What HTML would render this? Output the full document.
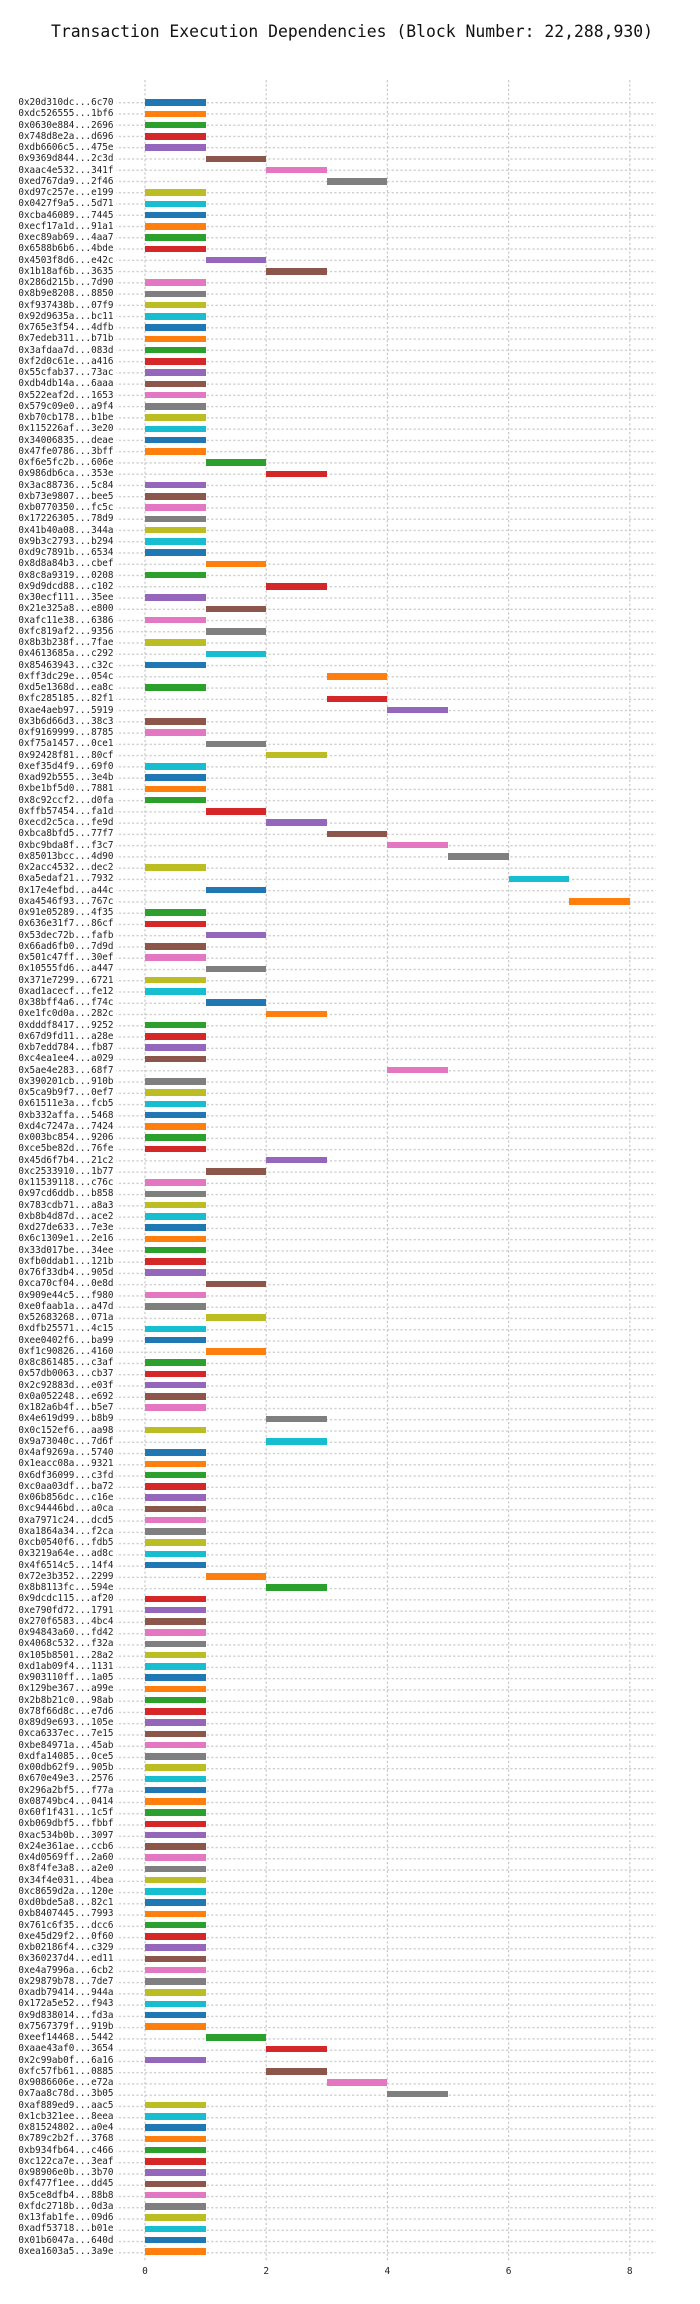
<!DOCTYPE html>
<html><head><meta charset="utf-8"><style>
html,body{margin:0;padding:0;background:#fff;}
body{width:700px;height:2304px;position:relative;overflow:hidden;font-family:"DejaVu Sans Mono","Liberation Mono",monospace;}
.t{position:absolute;left:0;width:704px;top:22px;text-align:center;font-size:16.4px;color:#111;}
svg{position:absolute;left:0;top:0;}
#rows{position:absolute;left:0;top:97.07px;width:700px;}
.r{position:relative;height:11.257px;}
.r b{position:absolute;left:0;width:113.5px;text-align:right;font-weight:normal;font-size:9.3px;line-height:11.257px;top:0;color:#222;white-space:nowrap;}
.r i{position:absolute;top:2.3px;height:6.6px;width:60.6px;left:145px;box-sizing:border-box;}
.r i.s1{left:205.6px}.r i.s2{left:266.2px}.r i.s3{left:326.8px}.r i.s4{left:387.4px}.r i.s5{left:448px}.r i.s6{left:508.6px}.r i.s7{left:569.2px}
.r:nth-child(10n+1) i{background:#1f77b4}
.r:nth-child(10n+2) i{background:#ff7f0e}
.r:nth-child(10n+3) i{background:#2ca02c}
.r:nth-child(10n+4) i{background:#d62728}
.r:nth-child(10n+5) i{background:#9467bd}
.r:nth-child(10n+6) i{background:#8c564b}
.r:nth-child(10n+7) i{background:#e377c2}
.r:nth-child(10n+8) i{background:#7f7f7f}
.r:nth-child(10n+9) i{background:#bcbd22}
.r:nth-child(10n+10) i{background:#17becf}
.x{position:absolute;top:2266px;font-size:9.5px;color:#222;width:20px;margin-left:-10px;text-align:center;}
</style></head><body>
<svg width="700" height="2304">
<defs><pattern id="hp" patternUnits="userSpaceOnUse" x="0" y="97.07" width="700" height="11.257">
<line x1="0" y1="5.63" x2="700" y2="5.63" stroke="#c8c8c8" stroke-width="1.2" stroke-dasharray="2.2,2.2"/></pattern></defs>
<rect x="116" y="97.07" width="540" height="2161.4" fill="url(#hp)"/>
<g stroke="#c8c8c8" stroke-width="1.2" stroke-dasharray="2.2,2.2">
<line x1="145" y1="80" x2="145" y2="2262"/><line x1="266.2" y1="80" x2="266.2" y2="2262"/><line x1="387.4" y1="80" x2="387.4" y2="2262"/><line x1="508.6" y1="80" x2="508.6" y2="2262"/><line x1="629.8" y1="80" x2="629.8" y2="2262"/>
</g></svg>
<div class="t">Transaction Execution Dependencies (Block Number: 22,288,930)</div>
<div id="rows">
<div class="r"><b>0x20d310dc...6c70</b><i></i></div>
<div class="r"><b>0xdc526555...1bf6</b><i></i></div>
<div class="r"><b>0x0630e884...2696</b><i></i></div>
<div class="r"><b>0x748d8e2a...d696</b><i></i></div>
<div class="r"><b>0xdb6606c5...475e</b><i></i></div>
<div class="r"><b>0x9369d844...2c3d</b><i class="s1"></i></div>
<div class="r"><b>0xaac4e532...341f</b><i class="s2"></i></div>
<div class="r"><b>0xed767da9...2f46</b><i class="s3"></i></div>
<div class="r"><b>0xd97c257e...e199</b><i></i></div>
<div class="r"><b>0x0427f9a5...5d71</b><i></i></div>
<div class="r"><b>0xcba46089...7445</b><i></i></div>
<div class="r"><b>0xecf17a1d...91a1</b><i></i></div>
<div class="r"><b>0xec89ab69...4aa7</b><i></i></div>
<div class="r"><b>0x6588b6b6...4bde</b><i></i></div>
<div class="r"><b>0x4503f8d6...e42c</b><i class="s1"></i></div>
<div class="r"><b>0x1b18af6b...3635</b><i class="s2"></i></div>
<div class="r"><b>0x286d215b...7d90</b><i></i></div>
<div class="r"><b>0x8b9e8208...8850</b><i></i></div>
<div class="r"><b>0xf937438b...07f9</b><i></i></div>
<div class="r"><b>0x92d9635a...bc11</b><i></i></div>
<div class="r"><b>0x765e3f54...4dfb</b><i></i></div>
<div class="r"><b>0x7edeb311...b71b</b><i></i></div>
<div class="r"><b>0x3afdaa7d...083d</b><i></i></div>
<div class="r"><b>0xf2d0c61e...a416</b><i></i></div>
<div class="r"><b>0x55cfab37...73ac</b><i></i></div>
<div class="r"><b>0xdb4db14a...6aaa</b><i></i></div>
<div class="r"><b>0x522eaf2d...1653</b><i></i></div>
<div class="r"><b>0x579c09e0...a9f4</b><i></i></div>
<div class="r"><b>0xb70cb178...b1be</b><i></i></div>
<div class="r"><b>0x115226af...3e20</b><i></i></div>
<div class="r"><b>0x34006835...deae</b><i></i></div>
<div class="r"><b>0x47fe0786...3bff</b><i></i></div>
<div class="r"><b>0xf6e5fc2b...606e</b><i class="s1"></i></div>
<div class="r"><b>0x986db6ca...353e</b><i class="s2"></i></div>
<div class="r"><b>0x3ac88736...5c84</b><i></i></div>
<div class="r"><b>0xb73e9807...bee5</b><i></i></div>
<div class="r"><b>0xb0770350...fc5c</b><i></i></div>
<div class="r"><b>0x17226305...78d9</b><i></i></div>
<div class="r"><b>0x41b40a08...344a</b><i></i></div>
<div class="r"><b>0x9b3c2793...b294</b><i></i></div>
<div class="r"><b>0xd9c7891b...6534</b><i></i></div>
<div class="r"><b>0x8d8a84b3...cbef</b><i class="s1"></i></div>
<div class="r"><b>0x8c8a9319...0208</b><i></i></div>
<div class="r"><b>0x9d9dcd88...c102</b><i class="s2"></i></div>
<div class="r"><b>0x30ecf111...35ee</b><i></i></div>
<div class="r"><b>0x21e325a8...e800</b><i class="s1"></i></div>
<div class="r"><b>0xafc11e38...6386</b><i></i></div>
<div class="r"><b>0xfc819af2...9356</b><i class="s1"></i></div>
<div class="r"><b>0x8b3b238f...7fae</b><i></i></div>
<div class="r"><b>0x4613685a...c292</b><i class="s1"></i></div>
<div class="r"><b>0x85463943...c32c</b><i></i></div>
<div class="r"><b>0xff3dc29e...054c</b><i class="s3"></i></div>
<div class="r"><b>0xd5e1368d...ea8c</b><i></i></div>
<div class="r"><b>0xfc285185...82f1</b><i class="s3"></i></div>
<div class="r"><b>0xae4aeb97...5919</b><i class="s4"></i></div>
<div class="r"><b>0x3b6d66d3...38c3</b><i></i></div>
<div class="r"><b>0xf9169999...8785</b><i></i></div>
<div class="r"><b>0xf75a1457...0ce1</b><i class="s1"></i></div>
<div class="r"><b>0x92428f81...80cf</b><i class="s2"></i></div>
<div class="r"><b>0xef35d4f9...69f0</b><i></i></div>
<div class="r"><b>0xad92b555...3e4b</b><i></i></div>
<div class="r"><b>0xbe1bf5d0...7881</b><i></i></div>
<div class="r"><b>0x8c92ccf2...d0fa</b><i></i></div>
<div class="r"><b>0xffb57454...fa1d</b><i class="s1"></i></div>
<div class="r"><b>0xecd2c5ca...fe9d</b><i class="s2"></i></div>
<div class="r"><b>0xbca8bfd5...77f7</b><i class="s3"></i></div>
<div class="r"><b>0xbc9bda8f...f3c7</b><i class="s4"></i></div>
<div class="r"><b>0x85013bcc...4d90</b><i class="s5"></i></div>
<div class="r"><b>0x2acc4532...dec2</b><i></i></div>
<div class="r"><b>0xa5edaf21...7932</b><i class="s6"></i></div>
<div class="r"><b>0x17e4efbd...a44c</b><i class="s1"></i></div>
<div class="r"><b>0xa4546f93...767c</b><i class="s7"></i></div>
<div class="r"><b>0x91e05289...4f35</b><i></i></div>
<div class="r"><b>0x636e31f7...86cf</b><i></i></div>
<div class="r"><b>0x53dec72b...fafb</b><i class="s1"></i></div>
<div class="r"><b>0x66ad6fb0...7d9d</b><i></i></div>
<div class="r"><b>0x501c47ff...30ef</b><i></i></div>
<div class="r"><b>0x10555fd6...a447</b><i class="s1"></i></div>
<div class="r"><b>0x371e7299...6721</b><i></i></div>
<div class="r"><b>0xad1acecf...fe12</b><i></i></div>
<div class="r"><b>0x38bff4a6...f74c</b><i class="s1"></i></div>
<div class="r"><b>0xe1fc0d0a...282c</b><i class="s2"></i></div>
<div class="r"><b>0xdddf8417...9252</b><i></i></div>
<div class="r"><b>0x67d9fd11...a28e</b><i></i></div>
<div class="r"><b>0xb7edd784...fb87</b><i></i></div>
<div class="r"><b>0xc4ea1ee4...a029</b><i></i></div>
<div class="r"><b>0x5ae4e283...68f7</b><i class="s4"></i></div>
<div class="r"><b>0x390201cb...910b</b><i></i></div>
<div class="r"><b>0x5ca9b9f7...0ef7</b><i></i></div>
<div class="r"><b>0x61511e3a...fcb5</b><i></i></div>
<div class="r"><b>0xb332affa...5468</b><i></i></div>
<div class="r"><b>0xd4c7247a...7424</b><i></i></div>
<div class="r"><b>0x003bc854...9206</b><i></i></div>
<div class="r"><b>0xce5be82d...76fe</b><i></i></div>
<div class="r"><b>0x45d6f7b4...21c2</b><i class="s2"></i></div>
<div class="r"><b>0xc2533910...1b77</b><i class="s1"></i></div>
<div class="r"><b>0x11539118...c76c</b><i></i></div>
<div class="r"><b>0x97cd6ddb...b858</b><i></i></div>
<div class="r"><b>0x783cdb71...a8a3</b><i></i></div>
<div class="r"><b>0xb8b4d87d...ace2</b><i></i></div>
<div class="r"><b>0xd27de633...7e3e</b><i></i></div>
<div class="r"><b>0x6c1309e1...2e16</b><i></i></div>
<div class="r"><b>0x33d017be...34ee</b><i></i></div>
<div class="r"><b>0xfb0ddab1...121b</b><i></i></div>
<div class="r"><b>0x76f33db4...905d</b><i></i></div>
<div class="r"><b>0xca70cf04...0e8d</b><i class="s1"></i></div>
<div class="r"><b>0x909e44c5...f980</b><i></i></div>
<div class="r"><b>0xe0faab1a...a47d</b><i></i></div>
<div class="r"><b>0x52683268...071a</b><i class="s1"></i></div>
<div class="r"><b>0xdfb25571...4c15</b><i></i></div>
<div class="r"><b>0xee0402f6...ba99</b><i></i></div>
<div class="r"><b>0xf1c90826...4160</b><i class="s1"></i></div>
<div class="r"><b>0x8c861485...c3af</b><i></i></div>
<div class="r"><b>0x57db0063...cb37</b><i></i></div>
<div class="r"><b>0x2c92883d...e03f</b><i></i></div>
<div class="r"><b>0x0a052248...e692</b><i></i></div>
<div class="r"><b>0x182a6b4f...b5e7</b><i></i></div>
<div class="r"><b>0x4e619d99...b8b9</b><i class="s2"></i></div>
<div class="r"><b>0x0c152ef6...aa98</b><i></i></div>
<div class="r"><b>0x9a73040c...7d6f</b><i class="s2"></i></div>
<div class="r"><b>0x4af9269a...5740</b><i></i></div>
<div class="r"><b>0x1eacc08a...9321</b><i></i></div>
<div class="r"><b>0x6df36099...c3fd</b><i></i></div>
<div class="r"><b>0xc0aa03df...ba72</b><i></i></div>
<div class="r"><b>0x06b856dc...c16e</b><i></i></div>
<div class="r"><b>0xc94446bd...a0ca</b><i></i></div>
<div class="r"><b>0xa7971c24...dcd5</b><i></i></div>
<div class="r"><b>0xa1864a34...f2ca</b><i></i></div>
<div class="r"><b>0xcb0540f6...fdb5</b><i></i></div>
<div class="r"><b>0x3219a64e...ad8c</b><i></i></div>
<div class="r"><b>0x4f6514c5...14f4</b><i></i></div>
<div class="r"><b>0x72e3b352...2299</b><i class="s1"></i></div>
<div class="r"><b>0x8b8113fc...594e</b><i class="s2"></i></div>
<div class="r"><b>0x9dcdc115...af20</b><i></i></div>
<div class="r"><b>0xe790fd72...1791</b><i></i></div>
<div class="r"><b>0x270f6583...4bc4</b><i></i></div>
<div class="r"><b>0x94843a60...fd42</b><i></i></div>
<div class="r"><b>0x4068c532...f32a</b><i></i></div>
<div class="r"><b>0x105b8501...28a2</b><i></i></div>
<div class="r"><b>0xd1ab09f4...1131</b><i></i></div>
<div class="r"><b>0x903110ff...1a05</b><i></i></div>
<div class="r"><b>0x129be367...a99e</b><i></i></div>
<div class="r"><b>0x2b8b21c0...98ab</b><i></i></div>
<div class="r"><b>0x78f66d8c...e7d6</b><i></i></div>
<div class="r"><b>0x89d9e693...105e</b><i></i></div>
<div class="r"><b>0xca6337ec...7e15</b><i></i></div>
<div class="r"><b>0xbe84971a...45ab</b><i></i></div>
<div class="r"><b>0xdfa14085...0ce5</b><i></i></div>
<div class="r"><b>0x00db62f9...905b</b><i></i></div>
<div class="r"><b>0x670e49e3...2576</b><i></i></div>
<div class="r"><b>0x296a2bf5...f77a</b><i></i></div>
<div class="r"><b>0x08749bc4...0414</b><i></i></div>
<div class="r"><b>0x60f1f431...1c5f</b><i></i></div>
<div class="r"><b>0xb069dbf5...fbbf</b><i></i></div>
<div class="r"><b>0xac534b0b...3097</b><i></i></div>
<div class="r"><b>0x24e361ae...ccb6</b><i></i></div>
<div class="r"><b>0x4d0569ff...2a60</b><i></i></div>
<div class="r"><b>0x8f4fe3a8...a2e0</b><i></i></div>
<div class="r"><b>0x34f4e031...4bea</b><i></i></div>
<div class="r"><b>0xc8659d2a...120e</b><i></i></div>
<div class="r"><b>0xd0bde5a8...82c1</b><i></i></div>
<div class="r"><b>0xb8407445...7993</b><i></i></div>
<div class="r"><b>0x761c6f35...dcc6</b><i></i></div>
<div class="r"><b>0xe45d29f2...0f60</b><i></i></div>
<div class="r"><b>0xb02186f4...c329</b><i></i></div>
<div class="r"><b>0x360237d4...ed11</b><i></i></div>
<div class="r"><b>0xe4a7996a...6cb2</b><i></i></div>
<div class="r"><b>0x29879b78...7de7</b><i></i></div>
<div class="r"><b>0xadb79414...944a</b><i></i></div>
<div class="r"><b>0x172a5e52...f943</b><i></i></div>
<div class="r"><b>0x9d838014...fd3a</b><i></i></div>
<div class="r"><b>0x7567379f...919b</b><i></i></div>
<div class="r"><b>0xeef14468...5442</b><i class="s1"></i></div>
<div class="r"><b>0xaae43af0...3654</b><i class="s2"></i></div>
<div class="r"><b>0x2c99ab0f...6a16</b><i></i></div>
<div class="r"><b>0xfc57fb61...0885</b><i class="s2"></i></div>
<div class="r"><b>0x9086606e...e72a</b><i class="s3"></i></div>
<div class="r"><b>0x7aa8c78d...3b05</b><i class="s4"></i></div>
<div class="r"><b>0xaf889ed9...aac5</b><i></i></div>
<div class="r"><b>0x1cb321ee...8eea</b><i></i></div>
<div class="r"><b>0x81524802...a0e4</b><i></i></div>
<div class="r"><b>0x789c2b2f...3768</b><i></i></div>
<div class="r"><b>0xb934fb64...c466</b><i></i></div>
<div class="r"><b>0xc122ca7e...3eaf</b><i></i></div>
<div class="r"><b>0x98906e0b...3b70</b><i></i></div>
<div class="r"><b>0xf477f1ee...dd45</b><i></i></div>
<div class="r"><b>0x5ce8dfb4...88b8</b><i></i></div>
<div class="r"><b>0xfdc2718b...0d3a</b><i></i></div>
<div class="r"><b>0x13fab1fe...09d6</b><i></i></div>
<div class="r"><b>0xadf53718...b01e</b><i></i></div>
<div class="r"><b>0x01b6047a...640d</b><i></i></div>
<div class="r"><b>0xea1603a5...3a9e</b><i></i></div>
</div>
<div class="x" style="left:145px">0</div>
<div class="x" style="left:266.2px">2</div>
<div class="x" style="left:387.4px">4</div>
<div class="x" style="left:508.6px">6</div>
<div class="x" style="left:629.8px">8</div>
</body></html>
